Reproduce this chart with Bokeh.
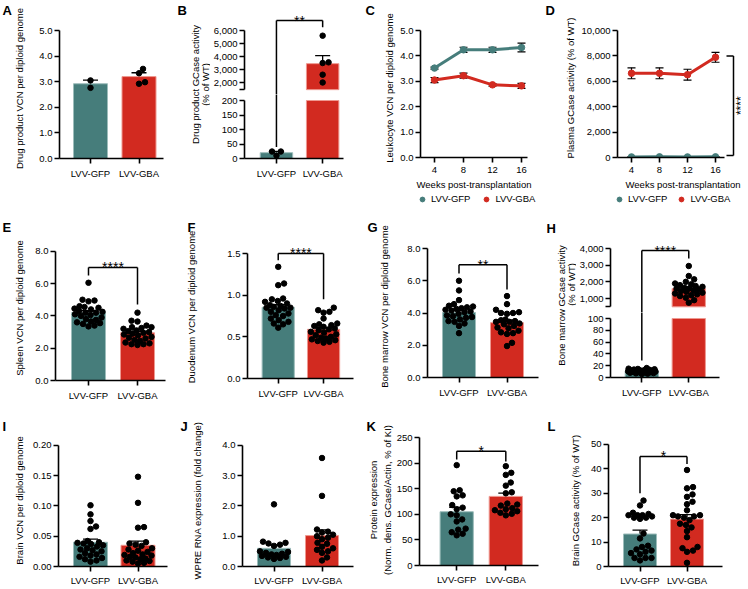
import math
from bokeh.plotting import figure
from bokeh.layouts import row, column
from bokeh.models import (Range1d, FixedTicker, NumeralTickFormatter, Label, Whisker,
                          TeeHead, ColumnDataSource, Legend, LegendItem)
from bokeh.core.properties import value
from bokeh.embed import file_html
from bokeh.resources import INLINE

FONT = "Liberation Sans"
FS = "9.5px"
TEAL, RED = "#467d7b", "#d22a20"
COLORS = [TEAL, RED]
EDGES = ["#9dbdbb", "#ee9890"]

# ---------------- data ----------------
groups = ["LVV-GFP", "LVV-GBA"]
weeks = [4, 8, 12, 16]

a_pts = [[3.05, 2.76], [3.33, 3.50, 2.92, 2.98]]
a_mean = [2.92, 3.20]
a_sem = [0.14, 0.15]

b_pts = [[10, 24, 24], [5600, 3550, 3500, 2600, 2000]]
b_mean = [20, 3450]
b_sem = [4.5, 610]

c_gfp = [3.52, 4.24, 4.24, 4.33]
c_gfp_sem = [0.04, 0.10, 0.10, 0.17]
c_gba = [3.05, 3.22, 2.86, 2.82]
c_gba_sem = [0.10, 0.10, 0.05, 0.10]

d_gfp = [45, 50, 45, 50]
d_gfp_sem = [10, 10, 10, 10]
d_gba = [6630, 6630, 6520, 7890]
d_gba_sem = [430, 430, 430, 390]

e_pts = [[6.05, 5.0, 4.95, 4.9, 4.6, 4.55, 4.5, 4.45, 4.4, 4.3, 4.25, 4.2, 4.2, 4.1, 4.05, 4.0,
          3.9, 3.8, 3.75, 3.65, 3.6, 3.55, 3.5, 3.4, 3.35],
         [4.2, 3.7, 3.65, 3.4, 3.3, 3.3, 3.25, 3.2, 3.1, 3.05, 3.0, 2.95, 2.9, 2.85, 2.8, 2.7,
          2.65, 2.6, 2.5, 2.45, 2.35, 2.3, 2.25, 2.25, 2.2]]
e_mean = [4.2, 2.95]
e_sem = [0.13, 0.10]

f_pts = [[1.34, 1.14, 1.12, 0.96, 0.95, 0.93, 0.92, 0.90, 0.88, 0.87, 0.86, 0.85, 0.85, 0.84,
          0.82, 0.80, 0.78, 0.76, 0.75, 0.72, 0.70, 0.68, 0.66, 0.65, 0.61],
         [0.85, 0.82, 0.80, 0.79, 0.72, 0.66, 0.65, 0.64, 0.63, 0.62, 0.60, 0.59, 0.58, 0.56,
          0.55, 0.53, 0.52, 0.50, 0.49, 0.48, 0.47, 0.46, 0.45, 0.44, 0.43]]
f_mean = [0.855, 0.59]
f_sem = [0.03, 0.02]

g_pts = [[6.0, 5.4, 4.8, 4.55, 4.45, 4.4, 4.35, 4.3, 4.25, 4.2, 4.15, 4.1, 4.05, 3.95, 3.85,
          3.8, 3.75, 3.7, 3.6, 3.5, 3.45, 3.35, 3.2, 2.75],
         [5.05, 4.55, 4.2, 4.05, 4.0, 4.0, 3.95, 3.6, 3.55, 3.5, 3.45, 3.45, 3.35, 3.3, 3.2,
          3.1, 3.05, 2.9, 2.8, 2.75, 2.7, 2.15, 1.95]]
g_mean = [4.03, 3.40]
g_sem = [0.14, 0.16]

h_pts = [[16, 15, 14.5, 14, 13.5, 13, 12.5, 12, 12, 11.5, 11, 11, 10.5, 10, 10, 9.5, 9, 9,
          8.5, 8, 7.5, 7, 6.5, 6],
         [2950, 2350, 2150, 2000, 1900, 1850, 1800, 1750, 1700, 1650, 1600, 1600, 1550, 1500,
          1450, 1400, 1350, 1300, 1250, 1200, 1150, 1050, 900, 750]]
h_mean = [10, 1600]
h_sem = [0.6, 100]

i_pts = [[0.101, 0.086, 0.075, 0.066, 0.062, 0.042, 0.040, 0.039, 0.038, 0.037, 0.035, 0.033,
          0.030, 0.028, 0.027, 0.025, 0.022, 0.020, 0.018, 0.016, 0.014, 0.012, 0.010, 0.008],
         [0.148, 0.105, 0.065, 0.064, 0.040, 0.038, 0.036, 0.034, 0.030, 0.028, 0.026, 0.024,
          0.022, 0.020, 0.019, 0.018, 0.016, 0.015, 0.013, 0.012, 0.010, 0.009, 0.008, 0.006,
          0.005]]
i_mean = [0.040, 0.035]
i_sem = [0.005, 0.007]

j_pts = [[2.05, 0.82, 0.78, 0.76, 0.72, 0.68, 0.50, 0.48, 0.45, 0.42, 0.40, 0.38, 0.35, 0.32,
          0.30, 0.28, 0.25],
         [3.58, 2.33, 1.22, 1.15, 1.12, 1.05, 1.00, 0.95, 0.90, 0.78, 0.75, 0.65, 0.60, 0.55,
          0.50, 0.45, 0.30, 0.20]]
j_mean = [0.60, 1.02]
j_sem = [0.11, 0.19]

k_pts = [[196, 147, 145, 137, 135, 118, 113, 110, 100, 98, 90, 86, 72, 70, 65, 62, 59],
         [194, 181, 177, 162, 156, 143, 141, 121, 119, 117, 112, 110, 108, 106, 103, 101, 98]]
k_mean = [105, 135]
k_sem = [8.5, 6.5]

l_pts = [[27, 25, 22, 21.5, 21, 21, 21, 20.5, 20, 20, 19.5, 13.5, 11.5, 8.5, 8, 7, 6.5, 6,
          5.5, 5, 3.5, 3.5, 3.5, 2.5],
         [39.5, 32.5, 32, 29.5, 28.5, 26.5, 25.5, 23, 21, 21, 20.5, 20.5, 20, 19, 17.5, 17, 16,
          14.5, 12, 8, 7.5, 6.5, 6, 1.5]]
l_mean = [13.3, 19.4]
l_sem = [1.6, 1.8]

B_BREAK = 1450
H_BREAK = 500

# ---------------- helpers ----------------
CW = {c: 0.556 for c in "0123456789"}
CW.update({",": 0.278, ".": 0.278})


def tw(s, fs=9.5):
    return sum(CW.get(c, 0.556) for c in s) * fs


class Geo:
    def __init__(self, slot, frame, xa, ya):
        self.slot, self.frame = slot, frame
        p1, v1, p2, v2 = xa
        self.kx = (v2 - v1) / (p2 - p1)
        self.bx = v1 - p1 * self.kx
        q1, w1, q2, w2 = ya
        self.ky = (w2 - w1) / (q2 - q1)
        self.by = w1 - q1 * self.ky

    def x(self, px):
        return self.bx + px * self.kx

    def y(self, py):
        return self.by + py * self.ky

    def py(self, v):
        return (v - self.by) / self.ky


def style_axis(ax):
    ax.axis_line_color = "black"
    ax.axis_line_width = 1.6
    ax.major_tick_line_color = "black"
    ax.major_tick_line_width = 1.6
    ax.major_tick_out = 5
    ax.major_tick_in = 0
    ax.minor_tick_line_color = None
    ax.major_label_text_font = FONT
    ax.major_label_text_font_size = FS
    ax.major_label_text_color = "black"
    ax.major_label_standoff = 2
    ax.axis_label_text_font = FONT
    ax.axis_label_text_font_size = FS
    ax.axis_label_text_font_style = "normal"
    ax.axis_label_text_color = "black"


def make_fig(g, xaxis=True, yaxis=True, let=None):
    x0, y0, x1, y1 = g.slot
    fl, ft, fr, fb = g.frame
    p = figure(width=int(x1 - x0), height=int(y1 - y0),
               x_range=Range1d(g.x(fl), g.x(fr)), y_range=Range1d(g.y(fb), g.y(ft)),
               min_border_left=int(fl - x0), min_border_right=int(x1 - fr),
               min_border_top=int(ft - y0), min_border_bottom=int(y1 - fb),
               x_axis_location="below" if xaxis else None,
               y_axis_location="left" if yaxis else None,
               output_backend="svg", toolbar_location=None, tools="",
               title=let[0] if let else None)
    p.outline_line_color = None
    p.grid.visible = False
    p.background_fill_color = "white"
    p.border_fill_color = "white"
    if let:
        t, lx, ly = let
        p.title.align = "left"
        p.title.offset = lx - fl
        p.title.standoff = max(0, int(round(ft - ly - 14.5)))
        p.title.text_font = FONT
        p.title.text_font_size = "13px"
        p.title.text_font_style = "bold"
        p.title.text_color = "black"
    for ax in p.axis:
        style_axis(ax)
    return p


def set_xcat(p, g, end_px, standoff=4):
    ax = p.xaxis[0]
    ax.ticker = FixedTicker(ticks=[1, 2])
    ax.major_label_overrides = {1: groups[0], 2: groups[1]}
    ax.bounds = (g.x(g.frame[0]), g.x(end_px))
    ax.major_label_standoff = standoff


def set_xweeks(p, g, end_px):
    ax = p.xaxis[0]
    ax.ticker = FixedTicker(ticks=weeks)
    ax.bounds = (g.x(g.frame[0]), g.x(end_px))
    ax.major_label_standoff = 4
    ax.axis_label = "Weeks post-transplantation"
    ax.axis_label_standoff = 3


def set_y(p, ticks, fmt, lo, hi, label=None, standoff=0, overrides=None):
    ax = p.yaxis[0]
    ax.ticker = FixedTicker(ticks=ticks)
    ax.formatter = NumeralTickFormatter(format=fmt)
    ax.bounds = (lo, hi)
    if overrides:
        ax.major_label_overrides = overrides
    if label:
        ax.axis_label = label
        ax.axis_label_standoff = max(0, int(round(standoff)))


def ylab_standoff(axis_px, cx, wlab, half=5.5):
    return axis_px - 5 - 2 - tw(wlab) - half - cx


def add_err(p, xs, means, sems, head, both=False, lw=1.3):
    lower = [m - s for m, s in zip(means, sems)] if both else list(means)
    upper = [m + s for m, s in zip(means, sems)]
    src = ColumnDataSource(dict(base=list(xs), lower=lower, upper=upper))
    p.add_layout(Whisker(source=src, base="base", lower="lower", upper="upper",
                         dimension="height", line_color="black", line_width=lw,
                         upper_head=TeeHead(size=head, line_color="black", line_width=lw),
                         lower_head=TeeHead(size=head, line_color="black", line_width=lw) if both else None))


def swarm(ypx, d=5.8, half=14):
    order = sorted(range(len(ypx)), key=lambda i: -ypx[i])
    cands = [0.0]
    k = 1
    while k * 0.5 <= half:
        cands += [k * 0.5, -k * 0.5]
        k += 1
    placed, offs = [], [0.0] * len(ypx)
    for i in order:
        y = ypx[i]
        best = None
        for c in cands:
            if all((c - a) ** 2 + (y - b) ** 2 >= d * d for a, b in placed):
                best = c
                break
        if best is None:
            best = min(cands, key=lambda c: max(d * d - ((c - a) ** 2 + (y - b) ** 2) for a, b in placed))
        offs[i] = best
        placed.append((best, y))
    return offs


def add_points(pts, pick, kx, half_px=14):
    """pick(v) -> (geo, fig) of the panel part in which value v is shown."""
    parts = {}
    for gi, vals in enumerate(pts):
        ypx = [pick(v)[0].py(v) for v in vals]
        offs = swarm(ypx, 5.8, half_px)
        for v, o in zip(vals, offs):
            fig = pick(v)[1]
            xs, ys = parts.setdefault(id(fig), (fig, [], []))[1:]
            xs.append(gi + 1 + o * kx)
            ys.append(v)
    for fig, xs, ys in parts.values():
        fig.scatter(xs, ys, size=5.5, color="black")


def bracket(p, top, lf, rf, x1=1, x2=2):
    p.multi_line(xs=[[x1, x1], [x1, x2], [x2, x2]], ys=[[lf, top], [top, top], [top, rf]],
                 line_color="black", line_width=1.5)


def stars(p, g, x, v, text, fs=14):
    base_px = g.py(v) + 0.57 * fs
    p.add_layout(Label(x=x, y=g.y(base_px), text=text, text_font=FONT,
                       text_font_size=f"{fs}px", text_align="center",
                       text_baseline="alphabetic", text_color="black"))


def label_fig(slot, lines, let):
    x0, y0, x1, y1 = slot
    p = figure(width=int(x1 - x0), height=int(y1 - y0), x_range=Range1d(x0, x1),
               y_range=Range1d(y1, y0), min_border_left=0, min_border_right=0,
               min_border_top=0, min_border_bottom=0, x_axis_location=None,
               y_axis_location=None, output_backend="svg", toolbar_location=None, tools="")
    p.outline_line_color = None
    p.grid.visible = False
    p.text(x=[l[1] for l in lines], y=[l[2] for l in lines], text=[l[0] for l in lines],
           angle=math.pi / 2, text_align="center", text_baseline="middle",
           text_font=value(FONT), text_font_size=value(FS), text_color="black")
    p.add_layout(Label(x=let[1], y=let[2], text=let[0], text_font=FONT, text_font_size="13px",
                       text_font_style="bold", text_baseline="top", text_align="left",
                       text_color="black"))
    return p


def legend_fig(slot, axis_x, spacing):
    x0, y0, x1, y1 = slot
    p = figure(width=int(x1 - x0), height=int(y1 - y0), x_range=Range1d(0, 1),
               y_range=Range1d(0, 1), min_border_left=int(axis_x - 4 - x0), min_border_right=0,
               min_border_top=0, min_border_bottom=0, x_axis_location=None,
               y_axis_location=None, output_backend="svg", toolbar_location=None, tools="")
    p.outline_line_color = None
    p.grid.visible = False
    # legend keys only: one point each, placed outside the visible range
    rs = [p.scatter(x=[-5], y=[-5], size=6, color=c) for c in COLORS]
    leg = Legend(items=[LegendItem(label=value(groups[i]), renderers=[rs[i]]) for i in range(2)],
                 orientation="horizontal", location="left", margin=0, padding=0,
                 spacing=spacing, glyph_width=12, glyph_height=12, label_standoff=3,
                 label_height=12, label_width=10, label_text_font=FONT,
                 label_text_font_size=FS, label_text_color="black",
                 border_line_color=None, background_fill_alpha=0)
    p.add_layout(leg)
    return p


def bar_panel(slot, frame, xa, ya, axis_end, yticks, fmt, ylabel, cx, wlab, pts, means, sems,
              barw_px, let, br=None, st=None, half=5.5, xstand=4):
    g = Geo(slot, frame, xa, ya)
    p = make_fig(g, let=let)
    set_xcat(p, g, axis_end, xstand)
    set_y(p, yticks, fmt, yticks[0], yticks[-1], ylabel, ylab_standoff(frame[0], cx, wlab, half))
    bw = barw_px * g.kx
    p.vbar(x=[1, 2], top=means, bottom=0, width=bw, fill_color=COLORS, line_color=EDGES,
           line_width=1)
    add_err(p, [1, 2], means, sems, 15)
    add_points(pts, lambda v: (g, p), g.kx, 14)
    if br:
        bracket(p, *br)
    if st:
        stars(p, g, 1.5, st[0], st[1])
    return p


def line_series(p, series):
    for (m, s), col in zip(series, COLORS):
        p.line(weeks, m, line_color=col, line_width=3)
        p.scatter(weeks, m, size=6.5, color=col)
    for (m, s) in series:
        add_err(p, weeks, m, s, 8, both=True, lw=1.2)


# ---------------- row 1 (y 0..205) ----------------
pA = bar_panel((0, 0, 177, 205), (59, 18, 175, 158), (90, 1, 138.5, 2), (158, 0, 30, 5.0), 163,
               [0, 1, 2, 3, 4, 5], "0.0", "Drug product VCN per diploid genome", 22, "5.0",
               a_pts, a_mean, a_sem, 34, ("A", 2, 2.5))

labB = label_fig((177, 0, 210, 205), [("Drug product GCase activity", 195, 84),
                                      ("(% of WT)", 205, 84)], ("B", 177, 2.5))
gBu = Geo((210, 0, 362, 94), (242, 6, 360, 94), (274.5, 1, 321.5, 2), (82, 2000, 30, 6000))
gBl = Geo((210, 94, 362, 205), (242, 94, 360, 158), (274.5, 1, 321.5, 2), (158, 0, 100, 200))
pBu = make_fig(gBu, xaxis=False)
set_y(pBu, [B_BREAK, 2000, 3000, 4000, 5000, 6000], "0,0", B_BREAK, 6000, overrides={B_BREAK: ""})
pBl = make_fig(gBl)
set_xcat(pBl, gBl, 343)
set_y(pBl, [0, 50, 100, 150, 200], "0", 0, 200)
bwB = 33 * gBl.kx
pBl.vbar(x=[1, 2], top=[min(m, 200) for m in b_mean], bottom=0, width=bwB,
         fill_color=COLORS, line_color=EDGES, line_width=1)
pBu.vbar(x=[2], top=[b_mean[1]], bottom=B_BREAK, width=bwB, fill_color=RED,
         line_color=EDGES[1], line_width=1)
add_err(pBl, [1], [b_mean[0]], [b_sem[0]], 15)
add_err(pBu, [2], [b_mean[1]], [b_sem[1]], 15)
add_points(b_pts, lambda v: (gBu, pBu) if v >= B_BREAK else (gBl, pBl), gBl.kx)
for _p in (pBl, pBu):
    bracket(_p, 6770, 40, 6250)
stars(pBu, gBu, 1.5, 7330, "**")

gC = Geo((362, 0, 545, 192), (420, 18, 527, 157), (434, 4, 521, 16), (157, 0, 30, 5))
pC = make_fig(gC, let=("C", 365, 2.5))
set_y(pC, [0, 1, 2, 3, 4, 5], "0.0", 0, 5, "Leukocyte VCN per diploid genome",
      ylab_standoff(420, 392, "5.0"))
set_xweeks(pC, gC, 527)
line_series(pC, [(c_gfp, c_gfp_sem), (c_gba, c_gba_sem)])
legC = legend_fig((362, 192, 545, 205), 420, 10)

gD = Geo((545, 0, 748, 192), (617, 18, 748, 157), (631, 4, 715, 16), (157, 0, 30, 10000))
pD = make_fig(gD, let=("D", 545, 2.5))
set_y(pD, [0, 2000, 4000, 6000, 8000, 10000], "0,0", 0, 10000,
      "Plasma GCase activity (% of WT)", ylab_standoff(617, 573, "10,000"))
set_xweeks(pD, gD, 724)
line_series(pD, [(d_gfp, d_gfp_sem), (d_gba, d_gba_sem)])
legD = legend_fig((545, 192, 748, 205), 617, 8)
xb, xt = gD.x(733), gD.x(726)
pD.multi_line(xs=[[xt, xb], [xb, xb], [xb, xt]], ys=[[8000, 8000], [8000, 150], [150, 150]],
              line_color="black", line_width=1.5)
pD.add_layout(Label(x=gD.x(740.5), y=4075, text="****", angle=math.pi / 2, text_font=FONT,
                    text_font_size="12px", text_align="center", text_baseline="middle",
                    text_color="black"))

# ---------------- row 2 (y 205..403) ----------------
pE = bar_panel((0, 205, 183, 403), (55, 235, 181, 382), (88, 1, 137, 2), (382, 0, 251, 8), 165,
               [0, 2, 4, 6, 8], "0.0", "Spleen VCN per diploid genome", 22, "8.0",
               e_pts, e_mean, e_sem, 34, ("E", 2, 219.5), br=(7.0, 6.5, 4.7), st=(7.5, "****"))
pF = bar_panel((183, 205, 367, 403), (244, 235, 365, 378), (275.5, 1, 322, 2), (378, 0, 253, 1.5),
               353, [0, 0.5, 1.0, 1.5], "0.0", "Duodenum VCN per diploid genome", 191, "1.5",
               f_pts, f_mean, f_sem, 33, ("F", 184, 219.5), br=(1.5, 1.42, 0.95), st=(1.6, "****"))
pG = bar_panel((367, 205, 546, 403), (427, 235, 544, 377), (458.5, 1, 506.5, 2), (377, 0, 248, 8),
               538, [0, 2, 4, 6, 8], "0.0", "Bone marrow VCN per diploid genome", 387, "8.0",
               g_pts, g_mean, g_sem, 33, ("G", 367, 219.5), br=(7.0, 6.45, 5.45), st=(7.5, "**"))

labH = label_fig((546, 205, 576, 403), [("Bone marrow GCase activity", 561, 305),
                                        ("(% of WT)", 571, 284)], ("H", 546, 220))
gHu = Geo((576, 205, 748, 312), (607, 240, 746, 312), (639, 1, 687, 2), (298, 1000, 248, 4000))
gHl = Geo((576, 312, 748, 403), (607, 312, 746, 377), (639, 1, 687, 2), (377, 0, 318, 100))
pHu = make_fig(gHu, xaxis=False)
set_y(pHu, [H_BREAK, 1000, 2000, 3000, 4000], "0,0", H_BREAK, 4000, overrides={H_BREAK: ""})
pHl = make_fig(gHl)
set_xcat(pHl, gHl, 718)
set_y(pHl, [0, 20, 40, 60, 80, 100], "0", 0, 100)
bwH = 34 * gHl.kx
pHl.vbar(x=[1, 2], top=[min(m, 100) for m in h_mean], bottom=0, width=bwH,
         fill_color=COLORS, line_color=EDGES, line_width=1)
pHu.vbar(x=[2], top=[h_mean[1]], bottom=H_BREAK, width=bwH, fill_color=RED,
         line_color=EDGES[1], line_width=1)
add_err(pHl, [1], [h_mean[0]], [h_sem[0]], 15)
add_err(pHu, [2], [h_mean[1]], [h_sem[1]], 15)
add_points(h_pts, lambda v: (gHu, pHu) if v >= H_BREAK else (gHl, pHl), gHl.kx)
for _p in (pHl, pHu):
    bracket(_p, 3880, 29, 3400)
stars(pHu, gHu, 1.5, 4300, "****")

# ---------------- row 3 (y 403..588) ----------------
pI = bar_panel((0, 403, 180, 588), (58, 434, 178, 569), (90, 1, 137.5, 2), (569, 0, 445, 0.2), 167,
               [0, 0.05, 0.10, 0.15, 0.20], "0.00", "Brain VCN per diploid genome", 22, "0.20",
               i_pts, i_mean, i_sem, 34, ("I", 2, 418.5), xstand=3)
pJ = bar_panel((180, 403, 365, 588), (242, 434, 363, 569), (273.5, 1, 321.5, 2), (569, 0, 445, 4),
               353, [0, 1, 2, 3, 4], "0.0", "WPRE RNA expression (fold change)", 200, "4.0",
               j_pts, j_mean, j_sem, 33, ("J", 180, 418.5), xstand=3)
pK = bar_panel((365, 403, 547, 588), (418, 434, 545, 565), (455.5, 1, 505, 2), (565, 0, 437, 250),
               538, [0, 50, 100, 150, 200, 250], "0",
               "Protein expression\n(Norm. dens. GCase/Actin, % of KI)", 383, "250",
               k_pts, k_mean, k_sem, 33.5, ("K", 365, 418.5), br=(223, 207, 203), st=(240, "*"),
               half=11.4, xstand=3)
pL = bar_panel((547, 403, 748, 588), (608, 434, 746, 568), (639.5, 1, 686.5, 2), (568, 0, 444, 50),
               722, [0, 10, 20, 30, 40, 50], "0", "Brain GCase activity (% of WT)", 578, "50",
               l_pts, l_mean, l_sem, 33, ("L", 547, 418.5), br=(45, 30, 42), st=(48.4, "*"),
               xstand=3)

layout = column(
    row(column(pA), row(labB, column(pBu, pBl)), column(pC, column(legC)),
        column(pD, column(legD))),
    row(column(pE), column(pF), column(pG), row(labH, column(pHu, pHl))),
    row(column(pI), column(pJ), column(pK), column(pL)),
)

open("out.html", "w").write(file_html(layout, INLINE))
